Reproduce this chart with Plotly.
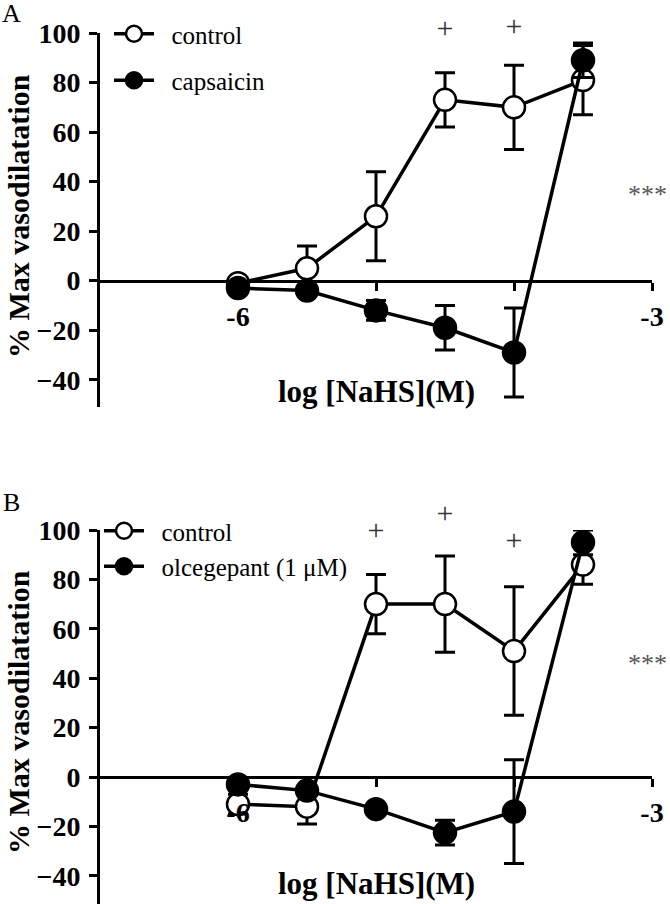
import plotly.graph_objects as go

# ---------------- data ----------------
log_conc = [-6, -5.5, -5, -4.5, -4, -3.5]

# Panel A
a_control = [-1, 5, 26, 73, 70, 81]
a_control_err = [2, 9, 18, 11, 17, 14]
a_capsaicin = [-3, -4, -12, -19, -29, 89]
a_capsaicin_err = [2, 2, 4, 9, 18, 7]

# Panel B
b_control = [-11, -12, 70, 70, 51, 86]
b_control_err = [4, 7, 12, 19.5, 26, 8]
b_olcegepant = [-3, -5.5, -13, -22.5, -14, 95]
b_olcegepant_err = [1, 1, 2, 5, 21, 5]

# significance "+" markers (x, y in data units)
a_plus_x = [-4.5, -4]
a_plus_y = [101, 102]
b_plus_x = [-5, -4.5, -4]
b_plus_y = [99, 106, 95]

y_ticks = [-40, -20, 0, 20, 40, 60, 80, 100]
x_ticks = [-6, -5, -4, -3]
x_ticktext = ["-6", "", "", "-3"]

# ---------------- figure ----------------
W, H = 670, 904
SERIF = "Liberation Serif"
PAD = "\u00a0\u00a0"   # small gap between legend symbol and text


def px_x(p):
    return p / W


def px_y(p):
    return 1 - p / H


# panel geometry (pixels from top)
A_TOP, A_BOT, A_RANGE = 33, 407, [-51, 100]
B_TOP, B_BOT, B_RANGE = 530, 904, [-51.4, 100]
A_PXU = (A_BOT - A_TOP) / (A_RANGE[1] - A_RANGE[0])
B_PXU = (B_BOT - B_TOP) / (B_RANGE[1] - B_RANGE[0])

fig = go.Figure()


def add_series(x, y, err, name, filled, xa, ya, legend, group=None):
    fig.add_trace(go.Scatter(
        x=x, y=y, name=PAD + name, mode="lines+markers",
        xaxis=xa, yaxis=ya, legend=legend, legendgroup=group,
        line=dict(color="black", width=3.5),
        marker=dict(size=22, color="black" if filled else "white",
                    line=dict(color="black", width=2.5)),
        error_y=dict(type="data", array=err, visible=True, color="black",
                     thickness=3, width=10),
        cliponaxis=False,
    ))


def add_plus(x, y, xa, ya):
    fig.add_trace(go.Scatter(
        x=x, y=y, mode="text", text=["+"] * len(x), xaxis=xa, yaxis=ya,
        textposition="middle center", showlegend=False, cliponaxis=False,
        textfont=dict(family=SERIF, size=30, color="#333333"), hoverinfo="skip",
    ))


add_series(log_conc, a_control, a_control_err, "control", False, "x", "y", "legend", "a1")
add_series(log_conc, a_capsaicin, a_capsaicin_err, "capsaicin", True, "x", "y", "legend", "a2")
add_series(log_conc, b_control, b_control_err, "control", False, "x2", "y2", "legend2")
add_series(log_conc, b_olcegepant, b_olcegepant_err, "olcegepant (1 μM)", True, "x2", "y2", "legend2")
add_plus(a_plus_x, a_plus_y, "x", "y3")
add_plus(b_plus_x, b_plus_y, "x2", "y4")

tickfont = dict(family=SERIF, size=28, color="black", weight="bold")

xcommon = dict(range=[-7, -3], domain=[px_x(100), px_x(652)], anchor="free",
               showline=True, linewidth=3, linecolor="black",
               ticks="outside", ticklen=8, tickwidth=3, tickcolor="black",
               tickvals=x_ticks, ticktext=x_ticktext, tickfont=tickfont,
               showgrid=False, zeroline=False, ticklabelstandoff=1,
               automargin=False)
ycommon = dict(showline=True, linewidth=3, linecolor="black",
               ticks="outside", ticklen=8, tickwidth=3, tickcolor="black",
               tickvals=y_ticks, tickfont=tickfont, showgrid=False,
               zeroline=False, ticklabelstandoff=3, automargin=False)
# invisible helper axes with the same scale, extended upwards (for "+" marks)
yhelper = dict(visible=False, showgrid=False, zeroline=False, automargin=False,
               fixedrange=True)

fig.update_layout(
    template="none",
    width=W, height=H, margin=dict(l=0, r=0, t=0, b=0, autoexpand=False),
    paper_bgcolor="white", plot_bgcolor="rgba(0,0,0,0)",
    xaxis=dict(**xcommon, position=px_y(281)),
    yaxis=dict(**ycommon, range=A_RANGE, domain=[px_y(A_BOT), px_y(A_TOP)], anchor="x"),
    yaxis3=dict(**yhelper, anchor="x", domain=[px_y(A_BOT), 1],
                range=[A_RANGE[0], A_RANGE[0] + A_BOT / A_PXU]),
    xaxis2=dict(**xcommon, position=px_y(777)),
    yaxis2=dict(**ycommon, range=B_RANGE, domain=[0, px_y(B_TOP)], anchor="x2"),
    yaxis4=dict(**yhelper, anchor="x2", domain=[0, px_y(440)],
                range=[B_RANGE[0], B_RANGE[0] + (B_BOT - 440) / B_PXU]),
    legend=dict(x=px_x(109), y=px_y(11), xanchor="left", yanchor="top",
                font=dict(family=SERIF, size=25, color="black"),
                bgcolor="rgba(0,0,0,0)", tracegroupgap=11, itemwidth=40),
    legend2=dict(x=px_x(99), y=px_y(508), xanchor="left", yanchor="top",
                 font=dict(family=SERIF, size=25, color="black"),
                 bgcolor="rgba(0,0,0,0)", tracegroupgap=0, itemwidth=40),
    showlegend=True,
)

ann = []
# panel letters
ann.append(dict(text="A", x=px_x(11), y=px_y(14), xref="paper", yref="paper",
                xanchor="center", yanchor="middle", showarrow=False,
                font=dict(family=SERIF, size=26, color="black")))
ann.append(dict(text="B", x=px_x(11), y=px_y(502), xref="paper", yref="paper",
                xanchor="center", yanchor="middle", showarrow=False,
                font=dict(family=SERIF, size=26, color="black")))
# y titles
for yc in (216, 712):
    ann.append(dict(text="% Max vasodilatation", x=px_x(18), y=px_y(yc), xref="paper",
                    yref="paper", xanchor="center", yanchor="middle",
                    showarrow=False, textangle=-90,
                    font=dict(family=SERIF, size=30, color="black", weight="bold")))
# x titles
for yc in (391, 883):
    ann.append(dict(text="log [NaHS](M)", x=px_x(376), y=px_y(yc), xref="paper",
                    yref="paper", xanchor="center", yanchor="middle",
                    showarrow=False,
                    font=dict(family=SERIF, size=31, color="black", weight="bold")))
# *** marks
for yc in (195, 663):
    ann.append(dict(text="***", x=px_x(626), y=px_y(yc), xref="paper", yref="paper",
                    xanchor="left", yanchor="middle", showarrow=False,
                    font=dict(family=SERIF, size=26, color="#555555")))
fig.update_layout(annotations=ann)

fig.write_html("out.html", post_script="document.body.style.margin='0';",
               config={"displayModeBar": False})
